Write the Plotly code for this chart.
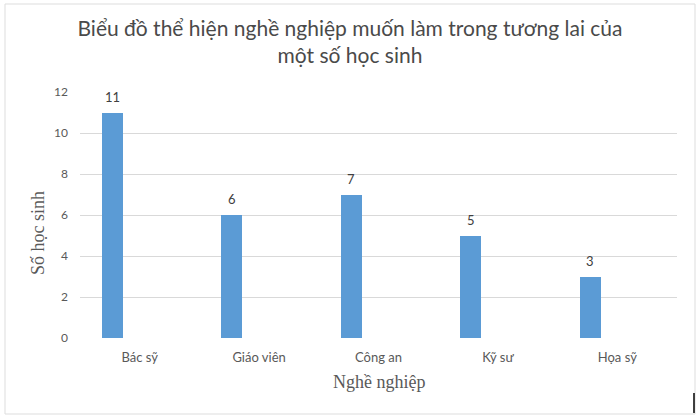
import plotly.graph_objects as go

categories = ["Bác sỹ", "Giáo viên", "Công an", "Kỹ sư", "Họa sỹ"]
values = [11, 6, 7, 5, 3]
y_ticks = [0, 2, 4, 6, 8, 10, 12]

title_text = "Biểu đồ thể hiện nghề nghiệp muốn làm trong tương lai của<br>một số học sinh"

BAR_OFFSET = -0.316
BAR_WIDTH = 0.176
CAT_PX = 597 / 5

fig = go.Figure()
fig.add_trace(go.Bar(
    x=categories, y=values,
    offset=BAR_OFFSET, width=BAR_WIDTH,
    marker=dict(color="#5B9BD5", line=dict(width=0)),
    hoverinfo="x+y",
))

label_annotations = [
    dict(x=c, y=v, xref="x", yref="y", text=str(v), showarrow=False,
         xshift=(BAR_OFFSET + BAR_WIDTH / 2) * CAT_PX, yshift=16,
         xanchor="center", yanchor="middle",
         font=dict(family="Lato", size=13, color="#404040"))
    for c, v in zip(categories, values)
]

fig.update_layout(
    width=700, height=419,
    margin=dict(l=80, r=23, t=92, b=81),
    paper_bgcolor="white", plot_bgcolor="white",
    showlegend=False,
    bargap=0,
    title=dict(text=title_text, x=0.5, xanchor="center", y=(419 - 36) / 419, yanchor="middle",
               font=dict(family="Lato", size=21, color="#4a4a4a")),
    xaxis=dict(showgrid=False, showline=False, ticks="", zeroline=False,
               ticklabelstandoff=10,
               tickfont=dict(family="Lato", size=13, color="#595959")),
    yaxis=dict(range=[0, 12], tickvals=y_ticks, showgrid=True, gridcolor="#D9D9D9",
               gridwidth=1, zeroline=False, showline=False, ticks="",
               ticklabelstandoff=11,
               tickfont=dict(family="Lato", size=12, color="#595959")),
    annotations=label_annotations + [
        dict(text="Số học sinh", xref="paper", yref="paper", x=(38 - 80) / 597,
             y=(338 - 233) / 246,
             textangle=-90, showarrow=False, xanchor="center", yanchor="middle",
             font=dict(family="Liberation Serif", size=18, color="#595959")),
        dict(text="Nghề nghiệp", xref="paper", yref="paper", x=0.5, y=(338 - 382) / 246,
             showarrow=False, xanchor="center", yanchor="middle",
             font=dict(family="Liberation Serif", size=18, color="#595959")),
    ],
    shapes=[
        dict(type="rect", xref="paper", yref="paper",
             x0=(5 - 80) / 597, x1=(695 - 80) / 597,
             y0=(338 - 414) / 246, y1=(338 - 4) / 246,
             line=dict(color="#DDDDDD", width=1), fillcolor="rgba(0,0,0,0)", layer="below"),
        dict(type="line", xref="paper", yref="paper",
             x0=(694 - 80) / 597, x1=(694 - 80) / 597,
             y0=(338 - 393) / 246, y1=(338 - 413) / 246,
             line=dict(color="black", width=1.5)),
    ],
)

fig.write_html("out.html", config={"displayModeBar": False},
               post_script="document.body.style.margin='0';document.body.style.padding='0';")
